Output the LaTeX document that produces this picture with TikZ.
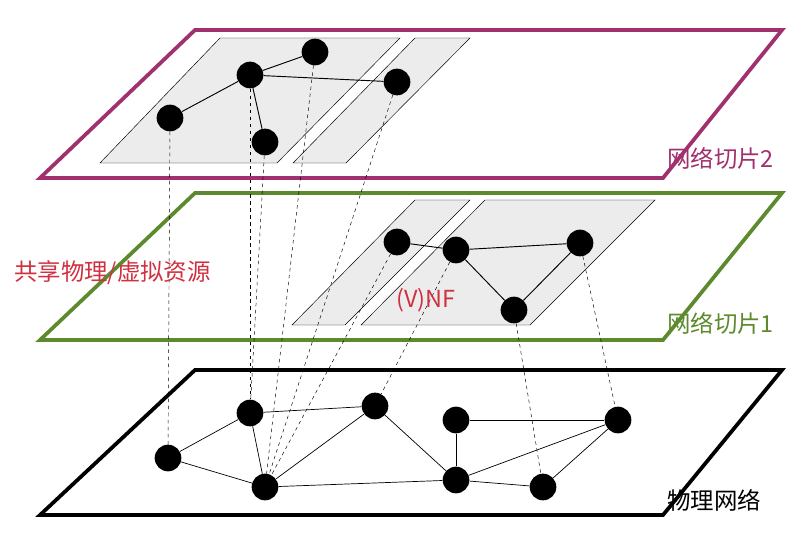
\documentclass[tikz,border=0pt]{standalone}
\usepackage{fontspec}
\setmainfont{Noto Sans CJK SC}
\usetikzlibrary{positioning}
\definecolor{sliceTwo}{HTML}{A0306E}
\definecolor{sliceOne}{HTML}{5E8A2E}
\definecolor{resRed}{HTML}{D03040}
\tikzset{
    vertex/.style={circle, fill=black, minimum size=0.8cm, inner sep=0pt},
    plane/.style={line width=3.2pt, line join=miter},
    slice/.style={draw, fill=gray!15, thin},
    link/.style={thick},
    map/.style={dashed, thin},
    lbl/.style={font=\fontsize{20}{24}\selectfont, anchor=west}
}
\begin{document}
\begin{tikzpicture}[x=0.03cm, y=-0.03cm]
        \useasboundingbox (0,0) rectangle (811,535);

        % planes
        \draw[plane, sliceTwo] (195,30) -- (782,30) -- (663,178) -- (40,178) -- cycle;
        \draw[plane, sliceOne] (195,193) -- (782,193) -- (663,340) -- (40,340) -- cycle;
        \draw[plane, black] (195,370) -- (782,370) -- (663,515) -- (40,515) -- cycle;

        % slices
        \draw[slice] (220,38) -- (400,38) -- (277,163) -- (100,163) -- cycle;
        \draw[slice] (415,38) -- (470,38) -- (346,163) -- (293,163) -- cycle;
        \draw[slice] (415,200) -- (470,200) -- (345,325) -- (292,325) -- cycle;
        \draw[slice] (485,200) -- (655,200) -- (530,325) -- (361,325) -- cycle;

        % slice 2
        \node (a) [vertex] at (170,118) {};
        \node (b) [vertex] at (250,75) {};
        \node (c) [vertex] at (315,52) {};
        \node (d) [vertex] at (265,142) {};
        \node (e) [vertex] at (397,82) {};
        % slice 1
        \node (f) [vertex] at (397,242) {};
        \node (g) [vertex] at (456,250) {};
        \node (h) [vertex] at (580,243) {};
        \node (i) [vertex] at (514,310) {};
        % physical
        \node (p1) [vertex] at (168,458) {};
        \node (p2) [vertex] at (250,413) {};
        \node (p3) [vertex] at (375,406) {};
        \node (p4) [vertex] at (456,420) {};
        \node (p5) [vertex] at (618,420) {};
        \node (p6) [vertex] at (265,487) {};
        \node (p7) [vertex] at (456,480) {};
        \node (p8) [vertex] at (543,487) {};

        % mappings
        \draw[map] (a) -- (p1);
        \draw[map] (b) -- (p2);
        \draw[map] (d) -- (p2);
        \draw[map] (c) -- (p6);
        \draw[map] (e) -- (p6);
        \draw[map] (f) -- (p6);
        \draw[map] (g) -- (p3);
        \draw[map] (i) -- (p8);
        \draw[map] (h) -- (p5);

        % links
        \draw[link] (a) -- (b) -- (c);
        \draw[link] (b) -- (d);
        \draw[link] (b) -- (e);
        \draw[link] (f) -- (g) -- (h) -- (i) -- (g);
        \foreach \s/\t in {p1/p2, p1/p6, p2/p6, p2/p3, p3/p6, p3/p7, p4/p7, p4/p5, p6/p7, p7/p5, p7/p8, p8/p5}
            \draw[semithick] (\s) -- (\t);

        % labels
        \node (L2) [lbl, text=sliceTwo] at (663,158) {网络切片2};
        \node (L1) [lbl, text=sliceOne] at (663,323) {网络切片1};
        \node (L0) [lbl] at (663,500) {物理网络};
        \node (Lres) [lbl, text=resRed] at (10,273) {共享物理/虚拟资源};
        \node (Lnf) [lbl, text=resRed] at (392,300) {(V)NF};
    \end{tikzpicture}
\end{document}
